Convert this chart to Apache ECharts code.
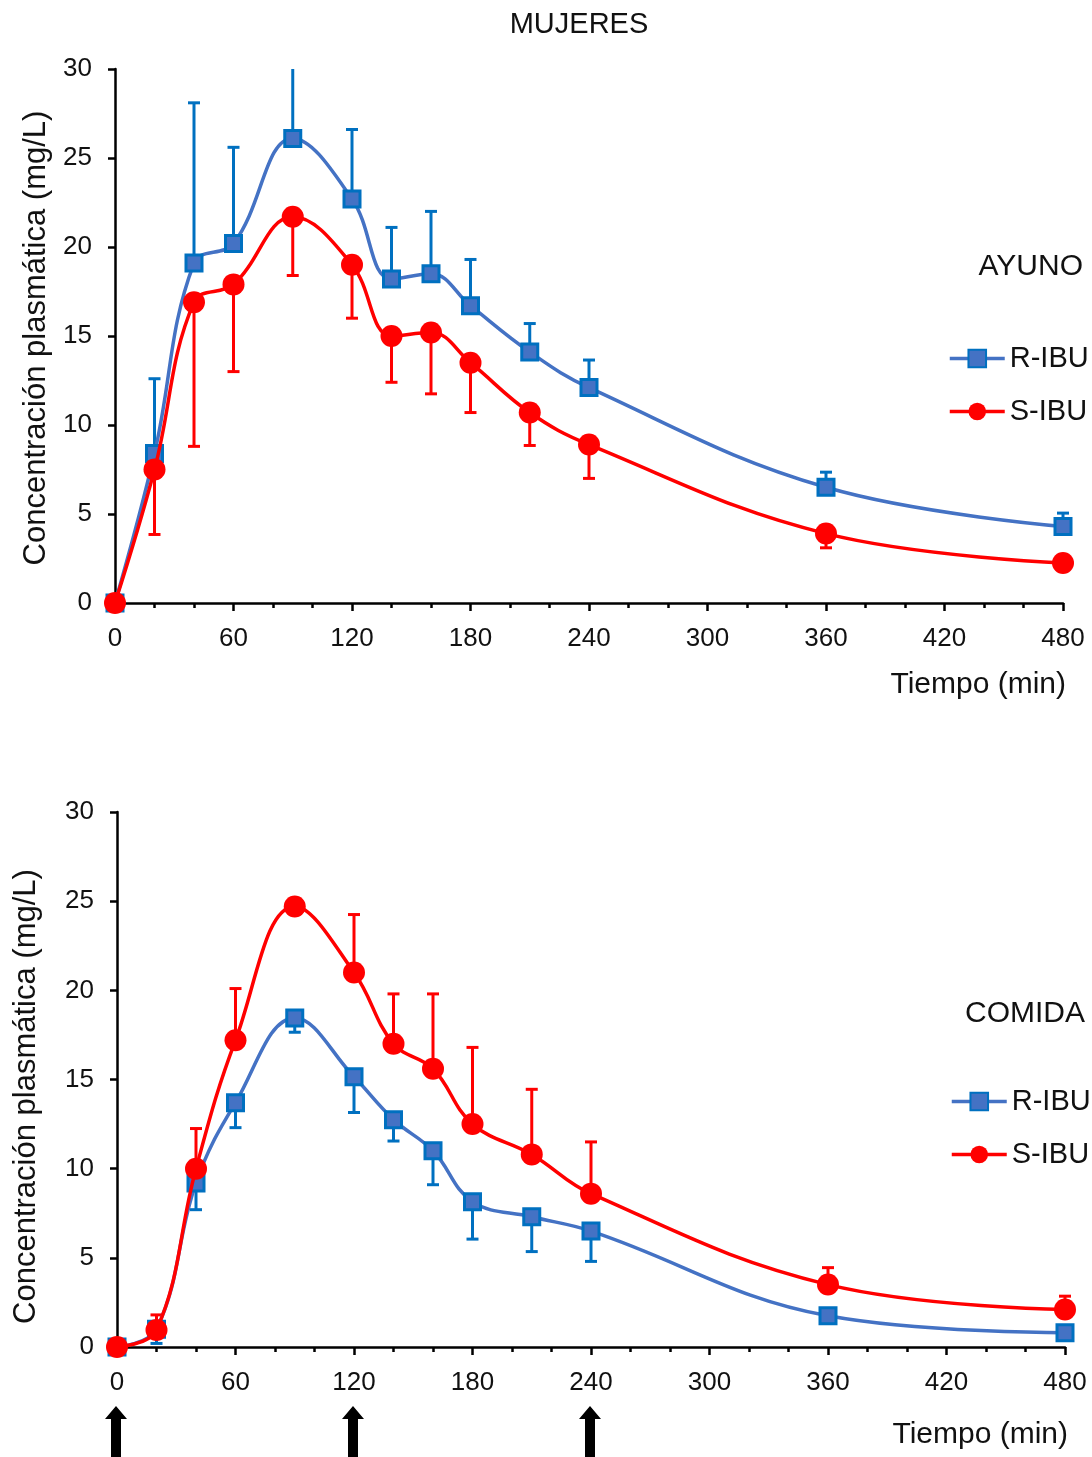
<!DOCTYPE html>
<html><head><meta charset="utf-8">
<script src="https://cdn.jsdelivr.net/npm/echarts@6/dist/echarts.min.js"></script>
<style>html,body{margin:0;padding:0;background:#fff}#c{width:1092px;height:1457px}</style>
</head><body><div id="c"></div>
<script>
// ---- data ----
const times = [0, 20, 40, 60, 90, 120, 140, 160, 180, 210, 240, 360, 480];
// AYUNO (fasting)
const rFast   = [0, 8.4, 19.1, 20.2, 26.1, 22.7, 18.2, 18.5, 16.7, 14.1, 12.1, 6.5, 4.3];
const rFastSD = [0, 4.2, 9.0, 5.4, 4.5, 3.9, 2.9, 3.5, 2.6, 1.6, 1.55, 0.85, 0.75];
const sFast   = [0, 7.5, 16.9, 17.9, 21.7, 19.0, 15.0, 15.2, 13.5, 10.7, 8.9, 3.9, 2.25];
const sFastSD = [0, 3.65, 8.1, 4.9, 3.3, 3.0, 2.6, 3.45, 2.8, 1.85, 1.9, 0.8, 0.4];
// COMIDA (fed)
const rFed    = [0, 1.0, 9.2, 13.7, 18.45, 15.15, 12.75, 11.0, 8.15, 7.3, 6.5, 1.75, 0.8];
const rFedSD  = [0, 0.8, 1.5, 1.4, 0.8, 2.0, 1.2, 1.9, 2.1, 1.95, 1.7, 0, 0];
const sFed    = [0, 0.95, 10.0, 17.2, 24.7, 21.0, 17.0, 15.6, 12.5, 10.8, 8.6, 3.5, 2.1];
const sFedSD  = [0, 0.85, 2.25, 2.9, 0, 3.25, 2.8, 4.2, 4.3, 3.65, 2.9, 0.95, 0.75];
// meal times (arrows)
const mealTimes = [0, 120, 240];
// axes / labels
const xMin = 0, xMax = 480, xStep = 60;
const yMin = 0, yMax = 30, yStep = 5;
const seriesNames = ['R-IBU', 'S-IBU'];
const panelLabels = ['AYUNO', 'COMIDA'];
const chartTitle = 'MUJERES';
const xName = 'Tiempo (min)';
const yName = 'Concentración plasmática (mg/L)';

// ---- styles ----
const FONT = 'Liberation Sans, Arial, sans-serif';
const TXT = '#111';
const BLUE_LINE = '#4472C4', BLUE_DARK = '#0070C0', RED = '#FF0000';

function xAxis(gi) {
  return {
    type: 'value', gridIndex: gi, min: xMin, max: xMax, interval: xStep,
    name: xName, nameLocation: 'end', nameGap: 3,
    nameTextStyle: { fontSize: 30, color: TXT, fontFamily: FONT, align: 'right', verticalAlign: 'top', padding: [gi === 0 ? 67 : 73, 0, 0, 0] },
    axisLine: { lineStyle: { color: '#000', width: 2.5 } },
    axisTick: { show: true, inside: false, length: 8, lineStyle: { color: '#000', width: 2.5 } },
    minorTick: { show: true, splitNumber: 3, length: 5, lineStyle: { color: '#000', width: 2.5 } },
    splitLine: { show: false }, minorSplitLine: { show: false },
    axisLabel: { fontSize: 26, color: TXT, fontFamily: FONT, margin: 23 }
  };
}
function yAxis(gi) {
  return {
    type: 'value', gridIndex: gi, min: yMin, max: yMax, interval: yStep,
    name: yName, nameLocation: 'middle', nameGap: gi === 0 ? 63 : 75,
    nameTextStyle: { fontSize: 31, color: TXT, fontFamily: FONT, padding: gi === 0 ? [0, 4, 0, 0] : [0, 34, 0, 0] },
    axisLine: { show: true, lineStyle: { color: '#000', width: 2.5 } },
    axisTick: { show: true, inside: false, length: 7, lineStyle: { color: '#000', width: 2.5 } },
    splitLine: { show: false },
    axisLabel: { fontSize: 26, color: TXT, fontFamily: FONT, margin: 23 }
  };
}
function errorBars(gi, vals, sds, dir, color) {
  return {
    type: 'custom', xAxisIndex: gi, yAxisIndex: gi, z: 1, silent: true,
    data: times.map((t, i) => [t, vals[i], sds[i]]),
    encode: { x: 0, y: 1 },
    renderItem: function (params, api) {
      const t = api.value(0), v = api.value(1), sd = api.value(2);
      if (!sd) return null;
      let end = v + dir * sd, cap = true;
      if (end > yMax) { end = yMax; cap = false; }
      if (end < yMin) { end = yMin; cap = false; }
      const p0 = api.coord([t, v]), p1 = api.coord([t, end]);
      const st = { stroke: color, lineWidth: 3 };
      const ch = [{ type: 'line', shape: { x1: p0[0], y1: p0[1], x2: p1[0], y2: p1[1] }, style: st }];
      if (cap) ch.push({ type: 'line', shape: { x1: p1[0] - 6, y1: p1[1], x2: p1[0] + 6, y2: p1[1] }, style: st });
      return { type: 'group', children: ch };
    }
  };
}
function rLine(gi, vals) {
  return {
    type: 'line', name: seriesNames[0], xAxisIndex: gi, yAxisIndex: gi, z: 3,
    data: times.map((t, i) => [t, vals[i]]), smooth: 0.4,
    symbol: 'rect', symbolSize: 16,
    lineStyle: { color: BLUE_LINE, width: 3.5 },
    itemStyle: { color: BLUE_LINE, borderColor: BLUE_DARK, borderWidth: 3 }
  };
}
function sLine(gi, vals) {
  return {
    type: 'line', name: seriesNames[1], xAxisIndex: gi, yAxisIndex: gi, z: 4,
    data: times.map((t, i) => [t, vals[i]]), smooth: 0.4,
    symbol: 'circle', symbolSize: 22,
    lineStyle: { color: RED, width: 3.5 },
    itemStyle: { color: RED, borderWidth: 0 }
  };
}
const arrows = {
  type: 'custom', xAxisIndex: 1, yAxisIndex: 1, silent: true, clip: false, z: 5,
  data: mealTimes.map(t => [t, 0]),
  encode: { x: 0, y: 1 },
  renderItem: function (params, api) {
    const p = api.coord([api.value(0), 0]);
    const x = p[0] - 1, y = p[1];
    return {
      type: 'polygon',
      shape: { points: [[x, y + 59], [x - 11, y + 72], [x - 5, y + 72], [x - 5, y + 115], [x + 5, y + 115], [x + 5, y + 72], [x + 11, y + 72]] },
      style: { fill: '#000' }
    };
  }
};

const legendBase = {
  data: seriesNames, orient: 'vertical', itemWidth: 55, itemHeight: 22, itemGap: 24, padding: 0,
  lineStyle: { width: 3.5 },
  textStyle: { fontSize: 29, color: TXT, fontFamily: FONT }, selectedMode: false
};

const chart = echarts.init(document.getElementById('c'), null, { renderer: 'canvas' });
chart.setOption({
  animation: false,
  backgroundColor: '#fff',
  title: { text: chartTitle, left: 574, top: 5, textAlign: 'center',
    textStyle: { fontSize: 29, fontWeight: 'normal', color: TXT, fontFamily: FONT } },
  grid: [
    { left: 115, width: 948, top: 69, height: 534 },
    { left: 117, width: 948, top: 812, height: 535 }
  ],
  xAxis: [xAxis(0), xAxis(1)],
  yAxis: [yAxis(0), yAxis(1)],
  legend: [
    Object.assign({}, legendBase, { left: 948, top: 344 }),
    Object.assign({}, legendBase, { left: 950, top: 1087 })
  ],
  graphic: [
    { type: 'text', right: 9, top: 252, style: { text: panelLabels[0], font: '30px ' + FONT, fill: TXT } },
    { type: 'text', right: 7, top: 999, style: { text: panelLabels[1], font: '30px ' + FONT, fill: TXT } }
  ],
  series: [
    errorBars(0, rFast, rFastSD, 1, BLUE_DARK),
    errorBars(0, sFast, sFastSD, -1, RED),
    rLine(0, rFast), sLine(0, sFast),
    errorBars(1, rFed, rFedSD, -1, BLUE_DARK),
    errorBars(1, sFed, sFedSD, 1, RED),
    rLine(1, rFed), sLine(1, sFed),
    arrows
  ]
});
</script></body></html>
